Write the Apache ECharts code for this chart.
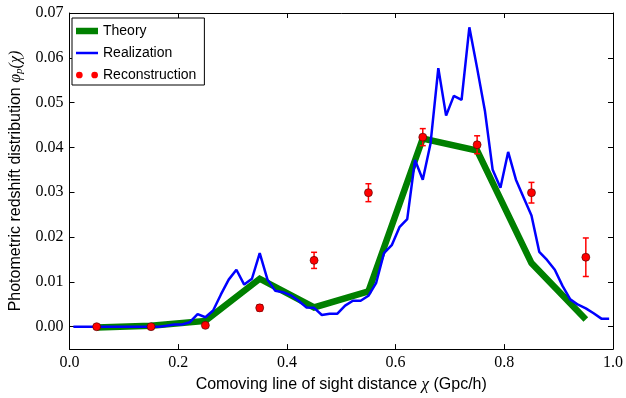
<!DOCTYPE html>
<html>
<head>
<meta charset="utf-8">
<script src="https://cdn.jsdelivr.net/npm/echarts@6/dist/echarts.min.js"></script>
<style>html,body{margin:0;padding:0;background:#fff}#c{width:626px;height:398px}</style>
</head>
<body>
<div id="c"></div>
<script>
// Theory (binned) curve
const theoryX = [0.05, 0.15, 0.25, 0.35, 0.45, 0.55, 0.65, 0.75, 0.85, 0.95];
const theoryY = [-0.0002, 0.0002, 0.0013, 0.0107, 0.0043, 0.0079, 0.0420, 0.0393, 0.0142, 0.0016];

// Reconstruction points with error bars
const reconX = [0.05, 0.15, 0.25, 0.35, 0.45, 0.55, 0.65, 0.75, 0.85, 0.95];
const reconY = [0.0000, 0.0000, 0.0003, 0.0042, 0.0148, 0.0299, 0.0423, 0.0406, 0.0299, 0.0155];
const reconErr = [0.0003, 0.0004, 0.0004, 0.0007, 0.0018, 0.0020, 0.0019, 0.0020, 0.0023, 0.0043];

// Realization (fine bins)
const realX = [0.0071,0.0214,0.0357,0.0500,0.0643,0.0786,0.0929,0.1071,0.1214,0.1357,
  0.1500,0.1643,0.1786,0.1929,0.2071,0.2214,0.2357,0.2500,0.2643,0.2786,
  0.2929,0.3071,0.3214,0.3357,0.3500,0.3643,0.3786,0.3929,0.4071,0.4214,
  0.4357,0.4500,0.4643,0.4786,0.4929,0.5071,0.5214,0.5357,0.5500,0.5643,
  0.5786,0.5929,0.6071,0.6214,0.6357,0.6500,0.6643,0.6786,0.6929,0.7071,
  0.7214,0.7357,0.7500,0.7643,0.7786,0.7929,0.8071,0.8214,0.8357,0.8500,
  0.8643,0.8786,0.8929,0.9071,0.9214,0.9357,0.9500,0.9643,0.9786,0.9929];
const realY = [0,0,0,0,0,0,0,0,0,0,
  0,0,0.0002,0.0005,0.0005,0.0010,0.0028,0.0021,0.0036,0.0072,
  0.0105,0.0127,0.0094,0.0107,0.0164,0.0105,0.0080,0.0077,0.0070,0.0058,
  0.0043,0.0042,0.0026,0.0029,0.0029,0.0047,0.0058,0.0058,0.0069,0.0098,
  0.0164,0.0182,0.0222,0.0240,0.0372,0.0328,0.0409,0.0577,0.0471,0.0515,
  0.0506,0.0668,0.0577,0.0482,0.0350,0.0310,0.0390,0.0328,0.0288,0.0248,
  0.0167,0.0149,0.0127,0.0091,0.0061,0.0049,0.0041,0.0030,0.0018,0.0018];

// Tick labels
const xTicks = [0, 0.2, 0.4, 0.6, 0.8, 1.0];
const yTicks = [0, 0.01, 0.02, 0.03, 0.04, 0.05, 0.06, 0.07];

const serif = 'Liberation Serif';
const sans = 'Liberation Sans';

const chart = echarts.init(document.getElementById('c'), null, {renderer: 'canvas'});

const tickStyle = {inside: true, length: 5, lineStyle: {color: '#000', width: 1}};
const lineStyleAx = {color: '#000', width: 1};

chart.setOption({
  animation: false,
  backgroundColor: '#fff',
  grid: {left: 67, right: 7, top: 13, bottom: 43, containLabel: false},
  legend: {
    orient: 'vertical', left: 72, top: 18,
    itemWidth: 22, itemHeight: 14, itemGap: 8,
    padding: [6, 8, 3, 4],
    borderColor: '#000', borderWidth: 1, backgroundColor: '#fff',
    textStyle: {fontFamily: sans, fontSize: 14, color: '#000'},
    data: [
      {name: 'Theory', icon: 'path://M0,0h22v6.5h-22z', itemStyle: {color: '#008000', borderWidth: 0}},
      {name: 'Realization', icon: 'path://M0,0h22v2.5h-22z', itemStyle: {color: '#0000ff', borderWidth: 0}},
      {name: 'Reconstruction', icon: 'path://M0,3.5a3.5,3.5 0 1,0 7,0a3.5,3.5 0 1,0 -7,0zM16,3.5a3.5,3.5 0 1,0 7,0a3.5,3.5 0 1,0 -7,0z',
        itemStyle: {color: '#ff0000', borderWidth: 0}}
    ]
  },
  xAxis: [{
    type: 'value', min: 0, max: 1, interval: 0.2, position: 'bottom',
    axisLine: {show: true, onZero: false, lineStyle: lineStyleAx},
    axisTick: tickStyle,
    splitLine: {show: false},
    axisLabel: {formatter: v => v.toFixed(1), fontFamily: serif, fontSize: 16, color: '#000', margin: 6,
      customValues: xTicks},
    name: 'Comoving line of sight distance {m|χ} (Gpc/h)',
    nameLocation: 'middle', nameGap: 23,
    nameTextStyle: {fontFamily: sans, fontSize: 16, color: '#000',
      rich: {m: {fontFamily: serif, fontStyle: 'italic', fontSize: 17, color: '#000'}}}
  }, {
    type: 'value', min: 0, max: 1, interval: 0.2, position: 'top',
    axisLine: {show: true, onZero: false, lineStyle: lineStyleAx},
    axisTick: tickStyle, axisLabel: {show: false}, splitLine: {show: false}
  }],
  yAxis: [{
    type: 'value', min: -0.005, max: 0.07, position: 'left',
    axisLine: {show: true, onZero: false, lineStyle: lineStyleAx},
    axisTick: Object.assign({customValues: yTicks}, tickStyle),
    splitLine: {show: false},
    axisLabel: {customValues: yTicks, formatter: v => v.toFixed(2), fontFamily: serif, fontSize: 16, color: '#000', margin: 6},
    name: 'Photometric redshift distribution {m|φ}{s|p}{m|(χ)}',
    nameLocation: 'middle', nameGap: 45,
    nameTextStyle: {fontFamily: sans, fontSize: 16, color: '#000',
      rich: {
        m: {fontFamily: serif, fontStyle: 'italic', fontSize: 16, color: '#000'},
        s: {fontFamily: serif, fontStyle: 'italic', fontSize: 11, color: '#000', padding: [6, 0, 0, 0]}
      }}
  }, {
    type: 'value', min: -0.005, max: 0.07, position: 'right',
    axisLine: {show: true, onZero: false, lineStyle: lineStyleAx},
    axisTick: Object.assign({customValues: yTicks}, tickStyle),
    axisLabel: {show: false}, splitLine: {show: false}
  }],
  series: [
    {
      name: 'Theory', type: 'line', xAxisIndex: 0, yAxisIndex: 0,
      data: theoryX.map((x, i) => [x, theoryY[i]]),
      symbol: 'none', z: 2,
      lineStyle: {color: '#008000', width: 6.5, cap: 'butt', join: 'miter'},
      itemStyle: {color: '#008000'}
    },
    {
      name: 'Realization', type: 'line', xAxisIndex: 0, yAxisIndex: 0,
      data: realX.map((x, i) => [x, realY[i]]),
      symbol: 'none', z: 3,
      lineStyle: {color: '#0000ff', width: 2.5},
      itemStyle: {color: '#0000ff'}
    },
    {
      name: 'Reconstruction err', type: 'custom', xAxisIndex: 0, yAxisIndex: 0, z: 4,
      data: reconX.map((x, i) => [x, reconY[i], reconErr[i]]),
      encode: {x: 0, y: 1},
      renderItem: function (params, api) {
        const x = api.value(0), y = api.value(1), e = api.value(2);
        const top = api.coord([x, y + e]);
        const bot = api.coord([x, y - e]);
        const cw = 3;
        const st = {stroke: '#ff0000', lineWidth: 1.5};
        return {
          type: 'group',
          children: [
            {type: 'line', shape: {x1: top[0], y1: top[1], x2: bot[0], y2: bot[1]}, style: st},
            {type: 'line', shape: {x1: top[0] - cw, y1: top[1], x2: top[0] + cw, y2: top[1]}, style: st},
            {type: 'line', shape: {x1: bot[0] - cw, y1: bot[1], x2: bot[0] + cw, y2: bot[1]}, style: st}
          ]
        };
      }
    },
    {
      name: 'Reconstruction', type: 'scatter', xAxisIndex: 0, yAxisIndex: 0, z: 5,
      data: reconX.map((x, i) => [x, reconY[i]]),
      symbol: 'circle', symbolSize: 8,
      itemStyle: {color: '#ff0000', borderColor: '#400000', borderWidth: 0.6, opacity: 1}
    }
  ]
});
</script>
</body>
</html>
